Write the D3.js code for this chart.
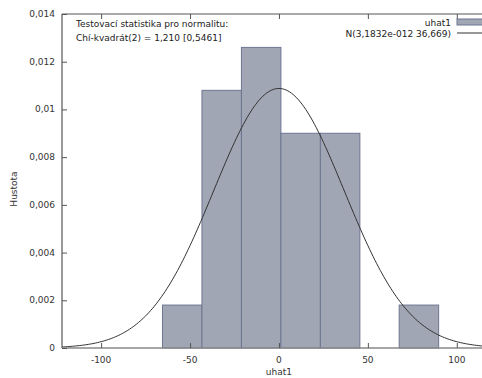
<!DOCTYPE html>
<html>
<head>
<meta charset="utf-8">
<script src="https://cdn.jsdelivr.net/npm/d3@7"></script>
<style>
  body { margin: 0; background: #fff; }
  svg { display: block; font-family: "DejaVu Sans", Verdana, sans-serif; }
</style>
</head>
<body>
<svg id="chart" width="482" height="378"></svg>
<script>
// histogram bins of uhat1 (left edge, density)
const binLeft = [-65.5, -43.3, -21.1, 1.1, 23.3, 67.6];
const binWidth = 22.2;
const density = [0.0018, 0.0108, 0.0126, 0.0090, 0.0090, 0.0018];

// fitted normal from the legend
const normMean = 3.1832e-12;
const normSd = 36.669;

const xTicks = [-100, -50, 0, 50, 100];
const yTicks = [0, 0.002, 0.004, 0.006, 0.008, 0.01, 0.012, 0.014];
const yTickLabels = ["0", "0,002", "0,004", "0,006", "0,008", "0,01", "0,012", "0,014"];

const plotL = 62, plotT = 14, plotB = 348, plotR = 500;
const fs = 9;

const svg = d3.select("#chart");

const x = d3.scaleLinear().domain([-122, 124.3]).range([plotL, plotR]);
const y = d3.scaleLinear().domain([0, 0.014]).range([plotB, plotT]);

// bars
svg.selectAll("rect.bar")
  .data(binLeft.map((b, i) => ({ x0: b, x1: b + binWidth, d: density[i] })))
  .enter()
  .append("rect")
  .attr("class", "bar")
  .attr("x", d => x(d.x0))
  .attr("y", d => y(d.d))
  .attr("width", d => x(d.x1) - x(d.x0))
  .attr("height", d => y(0) - y(d.d))
  .attr("fill", "#a0a6b4")
  .attr("stroke", "#6e7691")
  .attr("stroke-width", 1);

// normal curve
const pdf = v => Math.exp(-0.5 * ((v - normMean) / normSd) ** 2) / (normSd * Math.sqrt(2 * Math.PI));
const curvePts = d3.range(-122, 125, 1).map(v => [v, pdf(v)]);
svg.append("path")
  .datum(curvePts)
  .attr("fill", "none")
  .attr("stroke", "#333")
  .attr("stroke-width", 1)
  .attr("d", d3.line().x(d => x(d[0])).y(d => y(d[1])));

// frame
const frame = svg.append("g").attr("stroke", "#555").attr("fill", "none");
frame.append("line").attr("x1", plotL).attr("x2", plotL).attr("y1", plotT).attr("y2", plotB).attr("stroke-width", 1.2);
frame.append("line").attr("x1", plotL).attr("x2", 482).attr("y1", plotB).attr("y2", plotB).attr("stroke", "#888").attr("stroke-width", 1.6);
frame.append("line").attr("x1", plotL).attr("x2", 482).attr("y1", plotT).attr("y2", plotT).attr("stroke-width", 1);

// y axis (ticks inward)
const yAxis = svg.append("g")
  .attr("transform", `translate(${plotL},0)`)
  .call(d3.axisRight(y).tickValues(yTicks).tickSize(5).tickFormat(""));
yAxis.select(".domain").remove();
yAxis.selectAll("line").attr("stroke", "#555");
svg.selectAll("text.ylab")
  .data(yTicks)
  .enter()
  .append("text")
  .attr("class", "ylab")
  .attr("x", plotL - 7)
  .attr("y", d => y(d) + 3)
  .attr("text-anchor", "end")
  .attr("font-size", fs)
  .attr("fill", "#333")
  .text((d, i) => yTickLabels[i]);

// x axis bottom (ticks inward) and mirrored top
const xAxis = svg.append("g")
  .attr("transform", `translate(0,${plotB})`)
  .call(d3.axisTop(x).tickValues(xTicks).tickSize(5).tickFormat(""));
xAxis.select(".domain").remove();
xAxis.selectAll("line").attr("stroke", "#555");
const xTop = svg.append("g")
  .attr("transform", `translate(0,${plotT})`)
  .call(d3.axisBottom(x).tickValues(xTicks).tickSize(5).tickFormat(""));
xTop.select(".domain").remove();
xTop.selectAll("line").attr("stroke", "#555");
svg.selectAll("text.xlab")
  .data(xTicks)
  .enter()
  .append("text")
  .attr("class", "xlab")
  .attr("x", d => x(d))
  .attr("y", plotB + 15)
  .attr("text-anchor", "middle")
  .attr("font-size", fs)
  .attr("fill", "#333")
  .text(d => String(d));

// axis titles
svg.append("text")
  .attr("x", x(0))
  .attr("y", 375)
  .attr("text-anchor", "middle")
  .attr("font-size", fs)
  .attr("fill", "#333")
  .text("uhat1");
svg.append("text")
  .attr("transform", `translate(17,${(plotT + plotB) / 2 + 8}) rotate(-90)`)
  .attr("text-anchor", "middle")
  .attr("font-size", fs)
  .attr("fill", "#333")
  .text("Hustota");

// test statistic note
const note = svg.append("g").attr("font-size", fs).attr("fill", "#222");
note.append("text").attr("x", 76).attr("y", 27).text("Testovací statistika pro normalitu:");
note.append("text").attr("x", 76).attr("y", 41).text("Chí-kvadrát(2) = 1,210 [0,5461]");

// legend
const leg = svg.append("g").attr("font-size", fs).attr("fill", "#222");
leg.append("text").attr("x", 451).attr("y", 26).attr("text-anchor", "end").text("uhat1");
leg.append("rect").attr("x", 457).attr("y", 19).attr("width", 30).attr("height", 6)
  .attr("fill", "#a0a6b4").attr("stroke", "#6e7691");
leg.append("text").attr("x", 451).attr("y", 37).attr("text-anchor", "end").text("N(3,1832e-012 36,669)");
leg.append("line").attr("x1", 457).attr("x2", 490).attr("y1", 33).attr("y2", 33)
  .attr("stroke", "#333").attr("stroke-width", 1);
</script>
</body>
</html>
